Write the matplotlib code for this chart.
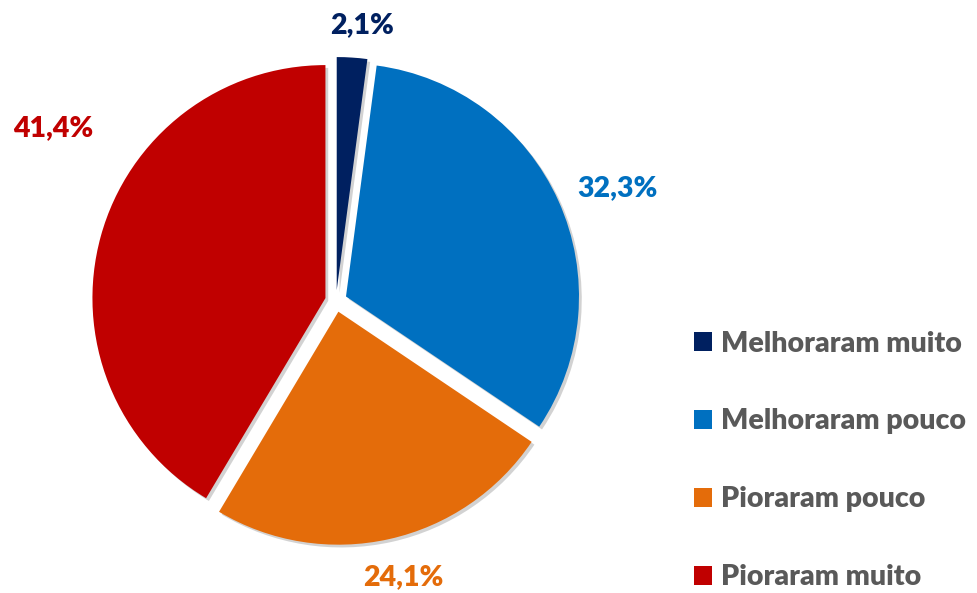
import matplotlib
matplotlib.use("Agg")
import matplotlib.pyplot as plt
import matplotlib.patheffects as pe
import numpy as np

categories = ["Melhoraram muito", "Melhoraram pouco", "Pioraram pouco", "Pioraram muito"]
values = [2.1, 32.3, 24.1, 41.4]
pct_labels = ["2,1%", "32,3%", "24,1%", "41,4%"]
colors = ["#002060", "#0070C0", "#E46C0A", "#C00000"]

# label placement (angle in degrees, distance in radii from pie centre)
label_pos = [(84.6, 1.19), (21.9, 1.30), (-76.4, 1.22), (148.6, 1.42)]

plt.rcParams["font.family"] = ["Lato", "DejaVu Sans"]

fig = plt.figure(figsize=(9.77, 5.93), dpi=100)
R = 233.0
lim = 1.25
cx, cy = 336.0, 301.0
w = 2 * lim * R
ax = fig.add_axes([(cx - w / 2) / 977, (593 - cy - w / 2) / 593, w / 977, w / 593])

wedges, _ = ax.pie(values, colors=colors, startangle=90, counterclock=False,
                   explode=[0.047] * 4, radius=1.0,
                   wedgeprops=dict(linewidth=0))
for wdg in wedges:
    wdg.set_path_effects([pe.SimplePatchShadow(offset=(2, -2), shadow_rgbFace="#808080", alpha=0.35),
                          pe.Normal()])

for (ang, dist), txt, col in zip(label_pos, pct_labels, colors):
    a = np.deg2rad(ang)
    ax.text(dist * np.cos(a), dist * np.sin(a), txt, color=col, fontsize=20.5,
            fontweight="heavy", ha="center", va="center")

ax.set_xlim(-lim, lim)
ax.set_ylim(-lim, lim)
ax.set_aspect("equal")
ax.axis("off")

leg = fig.legend(wedges, categories, loc="upper left", bbox_to_anchor=(668 / 977, 1 - 305 / 593),
                 frameon=False, handlelength=0.65, handleheight=0.65, handletextpad=0.3,
                 labelspacing=1.82, prop=dict(size=20.5, weight="heavy"))
for t in leg.get_texts():
    t.set_color("#595959")
for h in leg.legend_handles:
    h.set_path_effects([])

fig.savefig("out.png", dpi=100)
